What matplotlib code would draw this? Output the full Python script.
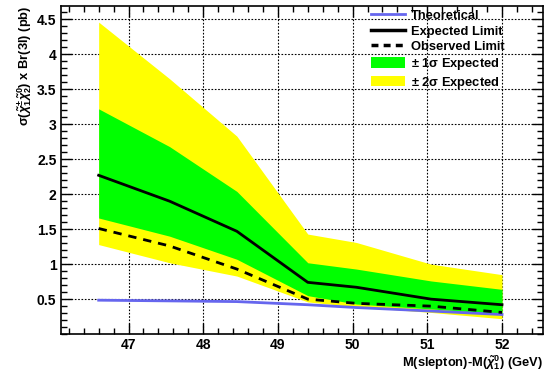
import matplotlib
matplotlib.use("Agg")
import matplotlib.pyplot as plt
from matplotlib.ticker import MultipleLocator
from matplotlib.patches import Patch
from matplotlib.lines import Line2D

mass_diff = [46.6, 47.55, 48.45, 49.4, 50.05, 51.05, 52.0]
theoretical = [0.485, 0.475, 0.465, 0.42, 0.38, 0.33, 0.28]
expected = [2.27, 1.90, 1.47, 0.74, 0.67, 0.50, 0.42]
observed = [1.51, 1.26, 0.93, 0.50, 0.44, 0.40, 0.31]
sig1_lo = [1.66, 1.40, 1.07, 0.55, 0.43, 0.36, 0.29]
sig1_hi = [3.22, 2.68, 2.04, 1.02, 0.93, 0.76, 0.64]
sig2_lo = [1.28, 1.02, 0.83, 0.46, 0.39, 0.31, 0.22]
sig2_hi = [4.46, 3.65, 2.83, 1.43, 1.31, 1.00, 0.85]

plt.rcParams['font.family'] = ['Liberation Sans', 'DejaVu Sans']
plt.rcParams['mathtext.fontset'] = 'custom'
plt.rcParams['mathtext.rm'] = 'Liberation Sans:bold'
plt.rcParams['mathtext.it'] = 'Liberation Sans:bold:italic'
plt.rcParams['mathtext.bf'] = 'Liberation Sans:bold'

fig = plt.figure(figsize=(5.45, 3.75), dpi=100)
ax = fig.add_axes([0.1125, 0.109, 0.884, 0.875])

ax.fill_between(mass_diff, sig2_lo, sig2_hi, color='#ffff00', lw=0, zorder=2)
ax.fill_between(mass_diff, sig1_lo, sig1_hi, color='#00ff00', lw=0, zorder=3)
ax.plot(mass_diff, theoretical, color='#6666ee', lw=2, zorder=4)
ax.plot(mass_diff, expected, color='black', lw=2, zorder=5)
ax.plot(mass_diff, observed, color='black', lw=2, ls=(0, (3, 2.5)), zorder=5)

ax.set_xlim(46.1, 52.55)
ax.set_ylim(0, 4.69)
ax.xaxis.set_minor_locator(MultipleLocator(0.2))
ax.yaxis.set_minor_locator(MultipleLocator(0.1))
ax.tick_params(which='both', direction='in', top=True, right=True, width=1)
ax.tick_params(which='major', length=8, labelsize=10)
ax.tick_params(axis='x', which='major', pad=3)
ax.tick_params(which='minor', length=4)
ax.set_yticks([0.5, 1, 1.5, 2, 2.5, 3, 3.5, 4, 4.5])
ax.set_yticklabels(['0.5', '1', '1.5', '2', '2.5', '3', '3.5', '4', '4.5'], fontweight='bold')
ax.set_xticks([47, 48, 49, 50, 51, 52])
ax.set_xticklabels(['47', '48', '49', '50', '51', '52'], fontweight='bold')
ax.grid(True, which='major', ls=(0, (1.5, 1.5)), color='black', lw=0.8, zorder=1)
ax.set_axisbelow(True)
for s in ax.spines.values():
    s.set_linewidth(1.2)

ax.set_xlabel(r'M(slepton)-M($\tilde{\chi}^{0}_{1}$) (GeV)', fontsize=9.3, fontweight='bold', loc='right', labelpad=0.5)
ax.set_ylabel(r'σ($\tilde{\chi}^{\pm}_{1}\tilde{\chi}^{0}_{2}$) x Br(3l) (pb)', fontsize=9.3, fontweight='bold', loc='top', labelpad=2)

handles = [
    Line2D([], [], color='#6666ee', lw=2),
    Line2D([], [], color='black', lw=2.5),
    Line2D([], [], color='black', lw=2.5, ls=(0, (2, 1.5))),
    Patch(facecolor='#00ff00', edgecolor='none'),
    Patch(facecolor='#ffff00', edgecolor='none'),
]
labels = ['Theoretical', 'Expected Limit', 'Observed Limit',
          r'± 1$\mathregular{\sigma}$ Expected', r'± 2$\mathregular{\sigma}$ Expected']
leg = ax.legend(handles, labels, loc='upper left', bbox_to_anchor=(0.632, 1.005),
                frameon=False, prop={'weight': 'bold', 'size': 9.3},
                handlelength=2.6, handleheight=0.85, handletextpad=0.5,
                labelspacing=0.22, borderaxespad=0)
leg.set_zorder(10)

fig.savefig('out.png', dpi=100)
